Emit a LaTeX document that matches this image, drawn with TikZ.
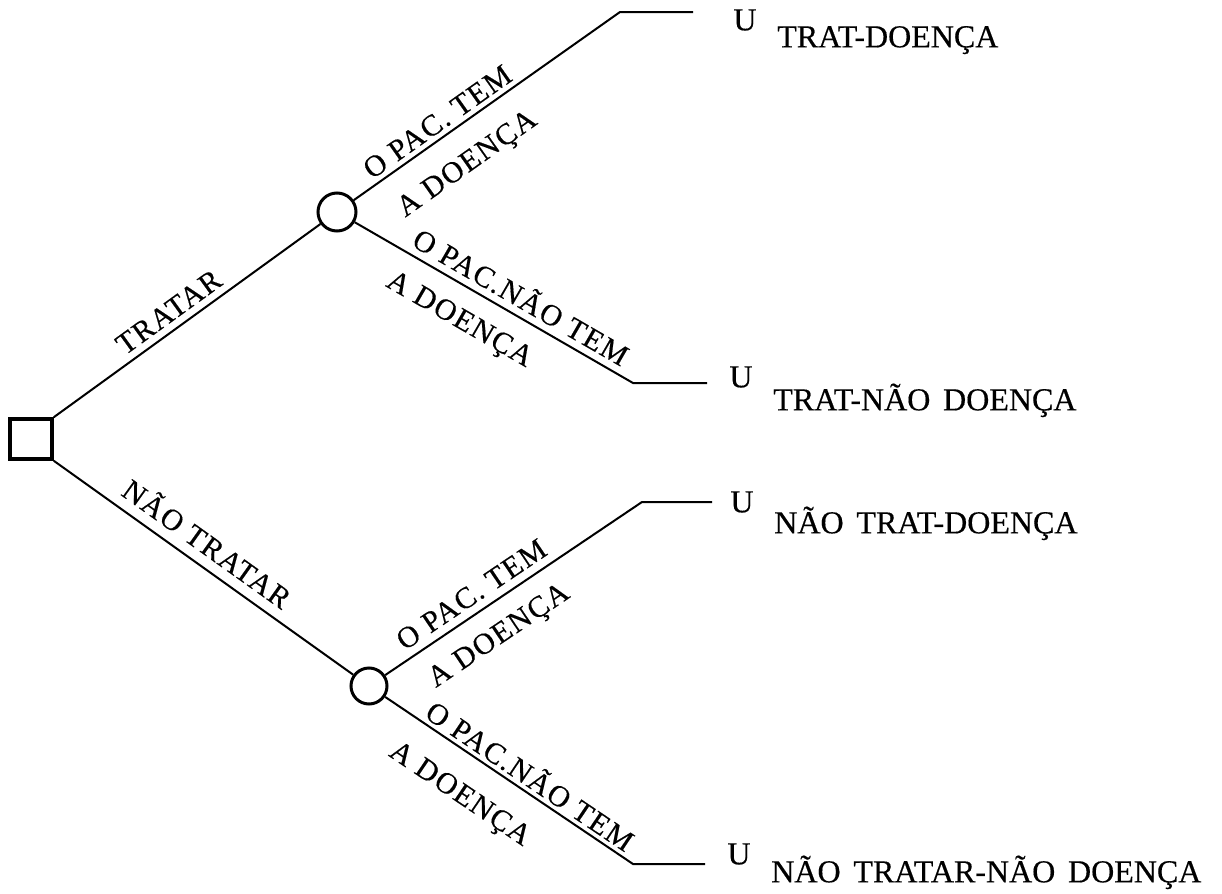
\documentclass[tikz,border=0pt]{standalone}
\usepackage{fontspec}
\setmainfont{Liberation Serif}[FakeBold=0.4]
\newfontfamily\outfont{Liberation Serif}[FakeBold=0.4, WordSpace=1.6]
\newfontfamily\lblfont{Liberation Serif}[FakeBold=0.4, LetterSpace=5]
\usetikzlibrary{positioning}

\begin{document}
\begin{tikzpicture}[
        x=0.5pt, y=-0.5pt,
        decision/.style={rectangle, draw=black, line width=1.8pt, minimum width=21pt, minimum height=20pt, inner sep=0pt},
        chance/.style={circle, draw=black, line width=1.5pt, minimum size=19pt, inner sep=0pt},
        branch/.style={line width=1pt},
        lbl/.style={sloped, anchor=base west, inner sep=0pt, font=\lblfont\fontsize{15}{18}\selectfont},
        util/.style={inner sep=0pt, font=\fontsize{16}{19}\selectfont},
        outcome/.style={anchor=base west, inner sep=0pt, font=\outfont\fontsize{16}{19}\selectfont}
    ]
        \useasboundingbox (0,0) rectangle (1222,894);

        % Nodes
        \node[decision] (root) at (31,439) {};
        \node[chance] (treat) at (337,212) {};
        \node[chance, minimum size=18pt] (notreat) at (369,686) {};

        % Branch ends
        \coordinate (td) at (620,12);
        \coordinate (tdend) at (693,12);
        \coordinate (tn) at (633,383);
        \coordinate (tnend) at (707,383);
        \coordinate (nd) at (642,502);
        \coordinate (ndend) at (712,502);
        \coordinate (nn) at (633,864);
        \coordinate (nnend) at (705,864);

        % Branches
        \draw[branch] (root.north east) -- (treat)
            node[lbl, anchor=base, pos=0.47, yshift=4pt] {TRATAR};
        \draw[branch] (root.south east) -- (notreat)
            node[lbl, anchor=base, pos=0.47, yshift=5.5pt] {NÃO TRATAR};

        \draw[branch] (treat) -- (td)
            node[lbl, pos=0.079, yshift=3pt] {O PAC. TEM}
            node[lbl, pos=0.095, yshift=-22pt] {A DOENÇA} -- (tdend);
        \draw[branch] (treat) -- (tn)
            node[lbl, pos=0.183, yshift=4pt] {O PAC.NÃO TEM}
            node[lbl, pos=0.177, yshift=-20pt] {A DOENÇA} -- (tnend);
        \draw[branch] (notreat) -- (nd)
            node[lbl, pos=0.093, yshift=4.5pt] {O PAC. TEM}
            node[lbl, pos=0.109, yshift=-19.5pt] {A DOENÇA} -- (ndend);
        \draw[branch] (notreat) -- (nn)
            node[lbl, pos=0.14, yshift=2.5pt] {O PAC.NÃO TEM}
            node[lbl, pos=0.113, yshift=-23.5pt] {A DOENÇA} -- (nnend);

        % Utilities
        \node[util, right=20pt of tdend, yshift=-4pt] (u1) {U};
        \node[outcome] (o1) at ([xshift=10pt, yshift=-8.5pt]u1.base east) {TRAT-DOENÇA};
        \node[util, right=11pt of tnend, yshift=3pt] (u2) {U};
        \node[outcome] (o2) at ([xshift=10pt, yshift=-11.5pt]u2.base east) {TRAT-NÃO DOENÇA};
        \node[util, right=9pt of ndend] (u3) {U};
        \node[outcome] (o3) at ([xshift=10pt, yshift=-10.5pt]u3.base east) {NÃO TRAT-DOENÇA};
        \node[util, right=11pt of nnend, yshift=5pt] (u4) {U};
        \node[outcome] (o4) at ([xshift=10pt, yshift=-9pt]u4.base east) {NÃO TRATAR-NÃO DOENÇA};
    \end{tikzpicture}
\end{document}
